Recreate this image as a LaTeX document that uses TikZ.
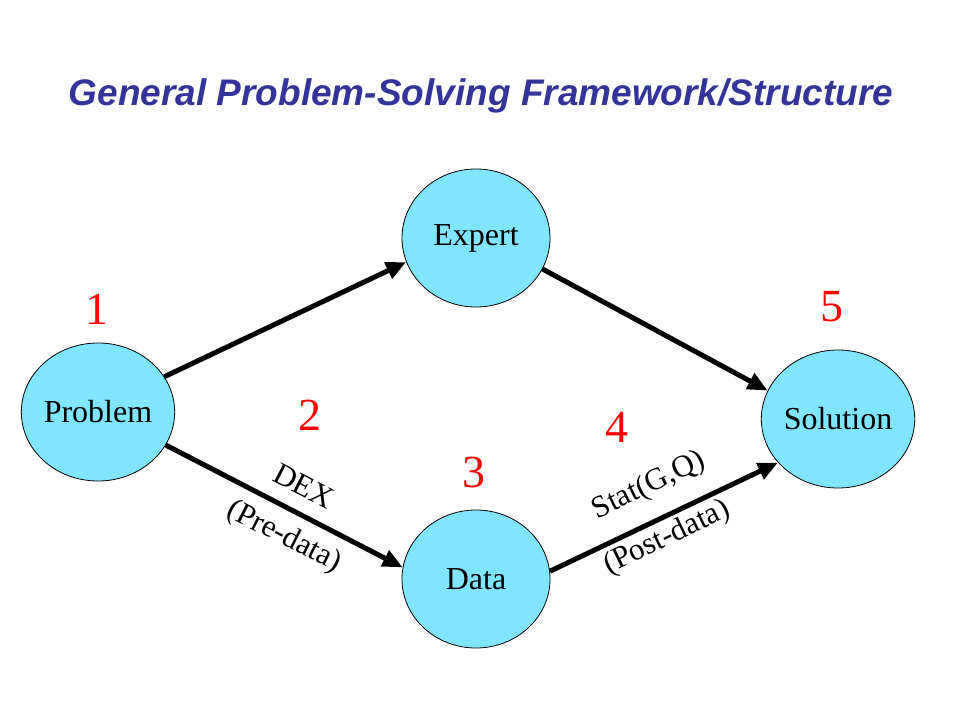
\documentclass[tikz,border=0pt]{standalone}
\usepackage{fontspec}
\setmainfont{Liberation Serif}
\newfontfamily\titlefont{Liberation Sans}
\usetikzlibrary{arrows.meta,shapes.geometric}
\definecolor{nodefill}{HTML}{80E5FF}
\definecolor{titleblue}{HTML}{333399}
\begin{document}
\begin{tikzpicture}[x=1pt,y=-1pt,
  circnode/.style={ellipse,draw=black,line width=0.8pt,fill=nodefill,minimum width=148pt,minimum height=138pt,inner sep=0pt,font=\fontsize{32}{32}\selectfont},
  conn/.style={line width=5pt,-{Triangle[length=20pt,width=17pt]}},
  num/.style={text=red,font=\fontsize{46}{46}\selectfont},
  lbl/.style={font=\fontsize{31}{31}\selectfont,inner sep=0pt}]
\useasboundingbox (0,0) rectangle (960,720);
\node[font=\titlefont\bfseries\itshape\fontsize{37}{37}\selectfont,text=titleblue] (title) at (481,96) {General Problem-Solving Framework/Structure};
\node[circnode] (problem) at (98,412) {Problem};
\node[circnode] (expert) at (476,238) {Expert};
\node[circnode] (data) at (476,579) {Data};
\node[circnode] (solution) at (838,419) {Solution};
\draw[conn] (problem.28) -- (expert.199);
\draw[conn] (expert.-25) -- (solution.158);
\draw[conn] (problem.-26) -- (data.171);
\draw[conn] (data.6) -- (solution.216);
\node[num] (n1) at (97,309) {1};
\node[num] (n2) at (310,415) {2};
\node[num] (n3) at (474,472) {3};
\node[num] (n4) at (617,427) {4};
\node[num] (n5) at (832,307) {5};
\node[lbl,rotate=-27] (dex) at (304,486) {DEX};
\node[lbl,rotate=-27] (pre) at (284,537) {(Pre-data)};
\node[lbl,rotate=26] (stat) at (649,486) {Stat(G,Q)};
\node[lbl,rotate=26] (post) at (667,538) {(Post-data)};
\end{tikzpicture}
\end{document}
